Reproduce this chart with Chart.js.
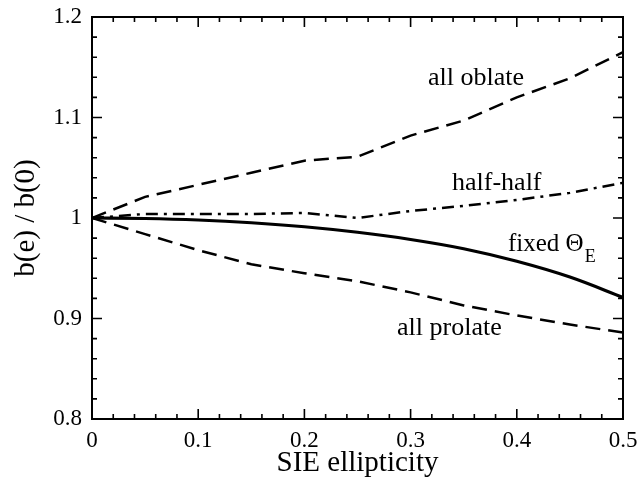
<!DOCTYPE html>
<html>
<head>
<meta charset="utf-8">
<script src="https://cdn.jsdelivr.net/npm/chart.js@4/dist/chart.umd.min.js"></script>
<style>
  html, body { margin: 0; padding: 0; background: #ffffff; }
  #c { display: block; }
</style>
</head>
<body>
<canvas id="c" width="641" height="480"></canvas>
<script>
// ---- data ----
const ellipticity = [0, 0.05, 0.10, 0.15, 0.20, 0.25, 0.30, 0.35, 0.40, 0.45, 0.50];
const allOblate   = [1.000, 1.021, 1.033, 1.045, 1.057, 1.061, 1.082, 1.097, 1.120, 1.139, 1.165];
const halfHalf    = [1.000, 1.004, 1.004, 1.004, 1.005, 1.000, 1.007, 1.012, 1.018, 1.025, 1.035];
const fixedTheta  = [1.000, 0.9995, 0.998, 0.9953, 0.9913, 0.9858, 0.9786, 0.9694, 0.9569, 0.9412, 0.921];
const allProlate  = [1.000, 0.984, 0.968, 0.954, 0.945, 0.937, 0.926, 0.913, 0.903, 0.894, 0.886];

const xTickValues = [0, 0.1, 0.2, 0.3, 0.4, 0.5];
const yTickValues = [0.8, 0.9, 1.0, 1.1, 1.2];
const xMinorStep = 0.02;
const yMinorStep = 0.02;

// curve labels: [text, x, y]
const curveLabels = [
  ["all oblate", 0.3164, 1.1323],
  ["half-half", 0.3390, 1.0279],
  ["all prolate", 0.2872, 0.8836]
];
const fixedLabel = ["fixed \u0398", "E", 0.3917, 0.9672];

const pts = (ys) => ellipticity.map((x, i) => ({x: x, y: ys[i]}));

const serif = "'Liberation Serif', 'Times New Roman', serif";

const framePlugin = {
  id: 'frame',
  afterDatasetsDraw(chart) {
    const {ctx, chartArea: a, scales: {x, y}} = chart;
    ctx.save();
    ctx.strokeStyle = '#000';
    ctx.lineWidth = 2;
    ctx.strokeRect(a.left, a.top, a.right - a.left, a.bottom - a.top);
    ctx.lineWidth = 1.6;
    ctx.beginPath();
    const nx = Math.round((x.max - x.min) / xMinorStep);
    for (let i = 0; i <= nx; i++) {
      const v = x.min + i * xMinorStep;
      const major = xTickValues.some(t => Math.abs(t - v) < 1e-9);
      const len = major ? 10 : 5;
      const px = x.getPixelForValue(v);
      ctx.moveTo(px, a.bottom); ctx.lineTo(px, a.bottom - len);
      ctx.moveTo(px, a.top); ctx.lineTo(px, a.top + len);
    }
    const ny = Math.round((y.max - y.min) / yMinorStep);
    for (let i = 0; i <= ny; i++) {
      const v = y.min + i * yMinorStep;
      const major = yTickValues.some(t => Math.abs(t - v) < 1e-9);
      const len = major ? 10 : 5;
      const py = y.getPixelForValue(v);
      ctx.moveTo(a.left, py); ctx.lineTo(a.left + len, py);
      ctx.moveTo(a.right, py); ctx.lineTo(a.right - len, py);
    }
    ctx.stroke();

    // curve labels
    ctx.fillStyle = '#000';
    ctx.textAlign = 'left';
    ctx.textBaseline = 'alphabetic';
    ctx.font = "26px " + serif;
    curveLabels.forEach(([t, vx, vy]) => {
      ctx.fillText(t, x.getPixelForValue(vx), y.getPixelForValue(vy));
    });
    const fx = x.getPixelForValue(fixedLabel[2]);
    const fy = y.getPixelForValue(fixedLabel[3]);
    ctx.font = "25px " + serif;
    ctx.fillText(fixedLabel[0], fx, fy);
    const w = ctx.measureText(fixedLabel[0]).width;
    ctx.font = "18px " + serif;
    ctx.fillText(fixedLabel[1], fx + w + 1, fy + 11);
    ctx.restore();
  }
};

new Chart(document.getElementById('c'), {
  type: 'line',
  data: {
    datasets: [
      { label: 'all oblate', data: pts(allOblate), borderColor: '#000', borderWidth: 2.5,
        borderDash: [15, 8], pointRadius: 0, tension: 0, fill: false },
      { label: 'half-half', data: pts(halfHalf), borderColor: '#000', borderWidth: 2.5,
        borderDash: [12, 6, 3, 6], pointRadius: 0, tension: 0, fill: false },
      { label: 'fixed Theta_E', data: pts(fixedTheta), borderColor: '#000', borderWidth: 3.2,
        pointRadius: 0, cubicInterpolationMode: 'monotone', fill: false },
      { label: 'all prolate', data: pts(allProlate), borderColor: '#000', borderWidth: 2.5,
        borderDash: [15, 8], pointRadius: 0, tension: 0, fill: false }
    ]
  },
  options: {
    responsive: false,
    animation: false,
    devicePixelRatio: 1,
    layout: { padding: { top: 17, right: 18, left: 0, bottom: 0 } },
    plugins: { legend: { display: false }, tooltip: { enabled: false } },
    scales: {
      x: {
        type: 'linear', min: 0, max: 0.5,
        grid: { display: false, drawTicks: false },
        border: { display: false },
        afterBuildTicks: (s) => { s.ticks = xTickValues.map(v => ({value: v})); },
        ticks: {
          color: '#000', padding: 8, maxRotation: 0,
          font: { family: serif, size: 23 },
          callback: (v) => (v === 0 ? '0' : String(+v.toFixed(1)))
        },
        title: { display: true, text: 'SIE ellipticity', color: '#000',
          font: { family: serif, size: 29, lineHeight: 1 }, padding: { top: 0, bottom: 2.5 } },
        afterFit: (s) => { s.height = 61; s.paddingLeft = 0; s.paddingRight = 0; }
      },
      y: {
        type: 'linear', min: 0.8, max: 1.2,
        grid: { display: false, drawTicks: false },
        border: { display: false },
        afterBuildTicks: (s) => { s.ticks = yTickValues.map(v => ({value: v})); },
        ticks: {
          color: '#000', padding: 10,
          font: { family: serif, size: 23 },
          callback: (v) => (Math.abs(v - 1) < 1e-9 ? '1' : String(+v.toFixed(1)))
        },
        title: { display: true, text: 'b(e) / b(0)', color: '#000',
          font: { family: serif, size: 29, lineHeight: 1 }, padding: { top: 11.5, bottom: 0 } },
        afterFit: (s) => { s.width = 92; s.paddingTop = 0; s.paddingBottom = 0; }
      }
    }
  },
  plugins: [framePlugin]
});
</script>
</body>
</html>
